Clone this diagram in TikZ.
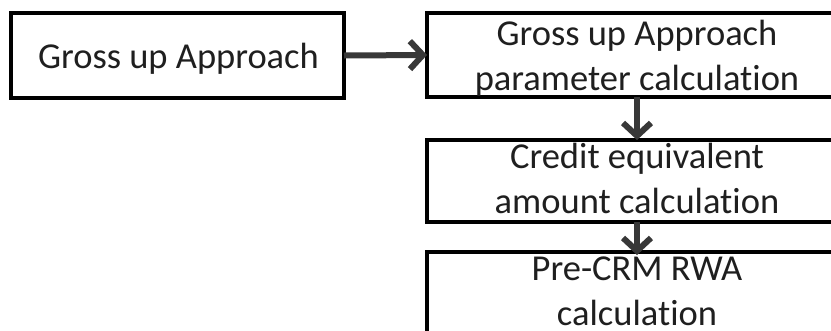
\documentclass[tikz,border=0pt]{standalone}
\usepackage{fontspec}
\setmainfont[Ligatures={NoCommon}]{Carlito}
\usetikzlibrary{arrows.meta}
\definecolor{arrowgray}{HTML}{383838}
\begin{document}
\begin{tikzpicture}[x=1pt,y=-1pt,
  box/.style={draw=black, line width=3.5pt, inner sep=0pt, outer sep=0pt},
  lbl/.style={font=\fontsize{36.5}{45}\selectfont, text=black!88, align=center, inner sep=0pt, anchor=base},
  conn/.style={draw=arrowgray, line width=6pt, -{Straight Barb[length=13pt,width=28pt,line width=6pt]}}]
\useasboundingbox (0,0) rectangle (831,330);
\clip (0,0) rectangle (831,330);
\node[box, minimum width=333pt, minimum height=85pt] (b1) at (177.5,55.5) {};
\node[box, minimum width=420pt, minimum height=84pt] (b2) at (637,55) {};
\node[box, minimum width=420pt, minimum height=82pt] (b3) at (637,181) {};
\node[box, minimum width=420pt, minimum height=120pt] (b4) at (637,312) {};
\node[lbl] (t1) at (178.5,68) {Gross up Approach};
\node[lbl] (t2) at (637,90) {Gross up Approach\\parameter calculation};
\node[lbl] (t3) at (637,213) {Credit equivalent\\amount calculation};
\node[lbl] (t4) at (637,325) {Pre-CRM RWA\\calculation};
\draw[conn] (b1.east) -- (b2.west);
\draw[conn] (b2.south) -- (b3.north);
\draw[conn, shorten >=-3pt] (b3.south) -- (b4.north);
\end{tikzpicture}
\end{document}
